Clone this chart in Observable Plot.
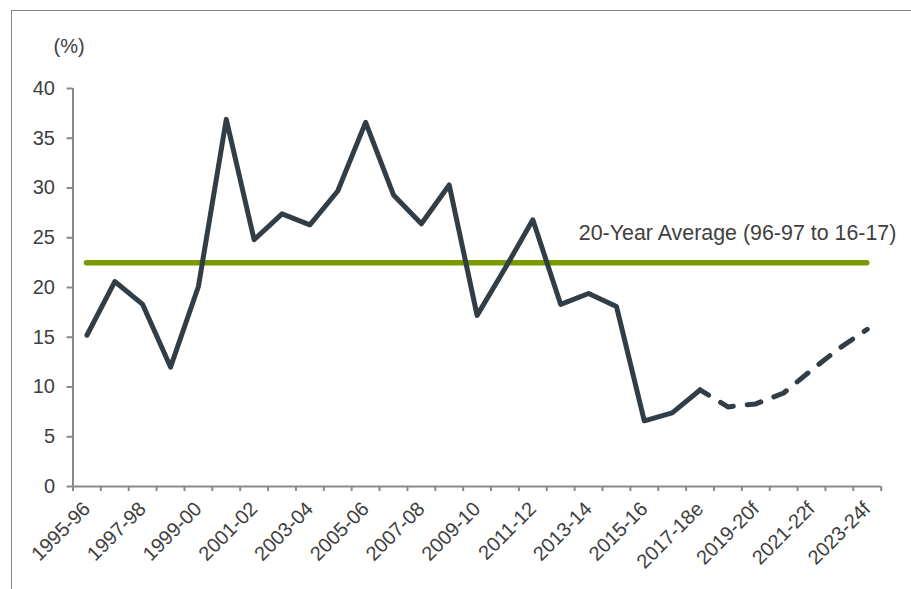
<!DOCTYPE html>
<html>
<head>
<meta charset="utf-8">
<script src="https://cdn.jsdelivr.net/npm/d3@7"></script>
<script src="https://cdn.jsdelivr.net/npm/@observablehq/plot@0.6"></script>
<style>
  html, body { margin: 0; padding: 0; background: #fff; }
  #wrap { position: relative; width: 911px; height: 589px; overflow: hidden; }
  #border { position: absolute; left: 11px; top: 10px; width: 1000px; height: 1000px;
            border-left: 1px solid #7d8590; border-top: 1px solid #7d8590; }
  #chart { position: absolute; left: 0; top: 0; }
</style>
</head>
<body>
<div id="wrap"><div id="border"></div><div id="chart"></div></div>
<script>
// Fiscal years (e = estimate, f = forecast)
const years = [
  "1995-96", "1996-97", "1997-98", "1998-99", "1999-00", "2000-01", "2001-02",
  "2002-03", "2003-04", "2004-05", "2005-06", "2006-07", "2007-08", "2008-09",
  "2009-10", "2010-11", "2011-12", "2012-13", "2013-14", "2014-15", "2015-16",
  "2016-17", "2017-18e", "2018-19", "2019-20f", "2020-21", "2021-22f", "2022-23",
  "2023-24f"
];
// Annual rate (%)
const rate = [
  15.2, 20.6, 18.3, 12.0, 20.1, 36.9, 24.8,
  27.4, 26.3, 29.7, 36.6, 29.3, 26.4, 30.3,
  17.2, 21.9, 26.8, 18.3, 19.4, 18.1, 6.6,
  7.4, 9.7, 8.0, 8.3, 9.4, 11.7, 13.9,
  15.8
];
const firstEstimate = "2017-18e";          // dashed from here on
const average = 22.5;                      // 20-year average, 96-97 to 16-17
const averageLabel = "20-Year Average (96-97 to 16-17)";
const unitLabel = "(%)";
const yTicks = [0, 5, 10, 15, 20, 25, 30, 35, 40];

const rows = years.map((year, i) => ({i, year, value: rate[i]}));
const split = years.indexOf(firstEstimate);
const actual = rows.filter(d => d.i <= split);
const projected = rows.filter(d => d.i >= split);

const n = years.length;
const boundaries = d3.range(n + 1).map(k => k - 0.5);
const labelled = d3.range(0, n, 2);

const axisGray = "#8a8a8a";
const textGray = "#404040";
const lineColor = "#323e47";

const chart = Plot.plot({
  width: 911,
  height: 589,
  marginLeft: 72.5,
  marginRight: 30.3,
  marginTop: 88,
  marginBottom: 103,
  style: { fontFamily: "'Liberation Sans', Arial, sans-serif", background: "transparent", overflow: "visible" },
  x: { domain: [-0.5, n - 0.5], axis: null },
  y: { domain: [0, 40], axis: null },
  marks: [
    Plot.ruleY([average], { x1: 0, x2: n - 1, stroke: "#7a9a01", strokeWidth: 5.5, strokeLinecap: "round" }),
    Plot.line(actual, { x: "i", y: "value", stroke: lineColor, strokeWidth: 5,
      strokeLinejoin: "round", strokeLinecap: "round" }),
    Plot.line(projected, { x: "i", y: "value", stroke: lineColor, strokeWidth: 5,
      strokeLinejoin: "round", strokeLinecap: "round", strokeDasharray: "14,14", strokeDashoffset: 4 }),
    Plot.axisY(yTicks, { anchor: "left", tickSize: 6, tickPadding: 12, stroke: axisGray, strokeWidth: 2,
      fill: textGray, fontSize: 20, label: null }),
    Plot.ruleX([-0.5], { y1: 0, y2: 40, stroke: axisGray, strokeWidth: 2 }),
    Plot.axisX(boundaries, { anchor: "bottom", tickSize: 5, stroke: axisGray, strokeWidth: 2,
      fill: "none", label: null }),
    Plot.axisX(labelled, { anchor: "bottom", tickSize: 0, tickPadding: 19, tickRotate: -45,
      tickFormat: i => years[i], fill: textGray, fontSize: 20, label: null }),
    Plot.ruleY([0], { x1: -0.5, x2: n - 0.5, stroke: axisGray, strokeWidth: 2 }),
    Plot.text([averageLabel], { x: 17.65, y: 25.5, textAnchor: "start", lineAnchor: "middle",
      fontSize: 21.4, fill: textGray }),
    Plot.text([unitLabel], { frameAnchor: "top-left", lineAnchor: "middle", dx: -19.5, dy: -42,
      fontSize: 20, fill: textGray })
  ]
});
document.getElementById("chart").appendChild(chart);
</script>
</body>
</html>
